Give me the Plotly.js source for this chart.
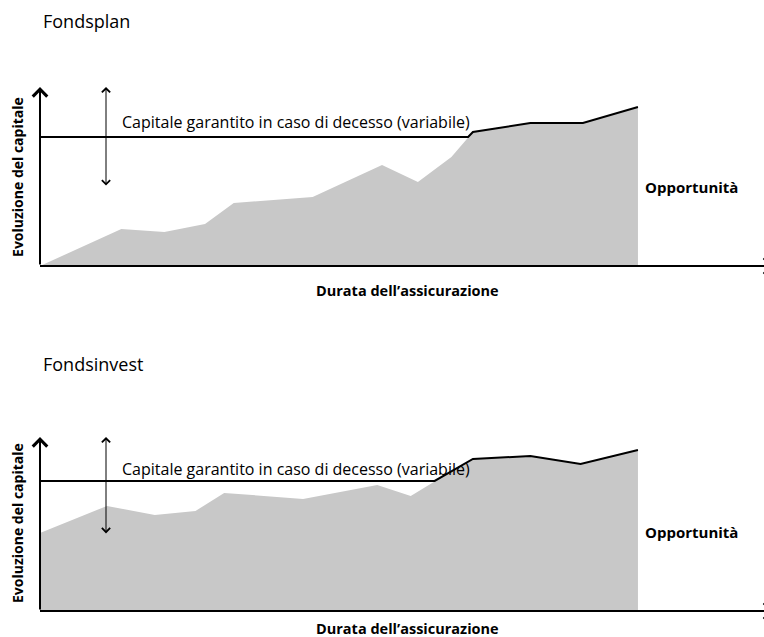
<!DOCTYPE html>
<html><head><meta charset="utf-8">
<script src="https://cdn.plot.ly/plotly-3.0.1.min.js"></script>
<style>html,body{margin:0;padding:0;background:#fff;}#chart{width:764px;height:637px;}</style>
</head><body><div id="chart"></div>
<script>
// Fondsplan (upper panel)
const durataPlan = [0, 3.4, 5.2, 6.9, 8.1, 11.4, 14.3, 15.8, 17.2, 18.1, 20.5, 22.7, 25];
const valorePlan = [0, 28.7, 26.4, 32.6, 48.8, 53.5, 78.3, 65.1, 84.5, 103.9, 110.9, 110.9, 123.3];
const durataGarPlan = [0, 17.9, 18.1, 20.5, 22.7, 25];
const garantitoPlan = [100, 100, 103.9, 110.9, 110.9, 123.3];

// Fondsinvest (lower panel)
const durataInvest = [0, 2.8, 4.8, 6.5, 7.7, 11.0, 14.1, 15.5, 16.6, 18.1, 20.5, 22.6, 25];
const valoreInvest = [60, 80.8, 73.8, 76.9, 90.8, 86.2, 96.9, 88.5, 100.8, 116.9, 119.2, 113.1, 123.8];
const durataGarInvest = [0, 16.5, 18.1, 20.5, 22.6, 25];
const garantitoInvest = [100, 100, 116.9, 119.2, 113.1, 123.8];

// Texts
const panelTitles = ['Fondsplan', 'Fondsinvest'];
const xTitle = 'Durata dell\u2019assicurazione';
const yTitle = 'Evoluzione del capitale';
const labelGarantito = 'Capitale garantito in caso di decesso (variabile)';
const labelOpportunita = 'Opportunit\u00e0';

const FONT = '"Open Sans", "Noto Sans", sans-serif';
const GRAY = '#c8c8c8';

const panels = [
  {xa:'x', ya:'y', dx:durataPlan, dy:valorePlan, gx:durataGarPlan, gy:garantitoPlan,
   yTop:138.8, arrowLow:61.2, labelY:112.0, title:panelTitles[0], axisY:0.58242,
   titleY:0.967, oppY:0.7064, xtY:0.5447, xtAnchor:'middle', ytY:0.7222},
  {xa:'x2', ya:'y2', dx:durataInvest, dy:valoreInvest, gx:durataGarInvest, gy:garantitoInvest,
   yTop:133.8, arrowLow:58.5, labelY:109.5, title:panelTitles[1], axisY:0.04082,
   titleY:0.4286, oppY:0.1648, xtY:-0.004, xtAnchor:'bottom', ytY:0.179}
];
const X_MAX = 30.27;
const X_DOUBLE = 2.76;
const X_LABEL = 3.34;

const traces = [];
const annotations = [];
const shapes = [];
panels.forEach(p => {
  traces.push({type:'scatter', mode:'lines', x:p.dx, y:p.dy, xaxis:p.xa, yaxis:p.ya,
    fill:'tozeroy', fillcolor:GRAY, line:{width:0, color:GRAY}, hoverinfo:'skip', showlegend:false});
  traces.push({type:'scatter', mode:'lines', x:p.gx, y:p.gy, xaxis:p.xa, yaxis:p.ya,
    line:{width:2, color:'#000'}, hoverinfo:'skip', showlegend:false});
  const ref = {xref:p.xa, yref:p.ya, axref:p.xa, ayref:p.ya};
  // y axis arrow
  annotations.push(Object.assign({x:0, y:p.yTop, ax:0, ay:0, text:'', showarrow:true,
    arrowhead:4, arrowsize:1.4, arrowwidth:2, arrowcolor:'#000', standoff:0, startstandoff:0}, ref));
  // x axis line, running to the right edge, with an arrowhead that lies mostly outside the picture
  shapes.push({type:'line', xref:'paper', yref:'paper', x0:0, x1:1.01, y0:p.axisY, y1:p.axisY,
    line:{color:'#000', width:2}, layer:'above'});
  const dy = 8/637;
  shapes.push({type:'path', xref:'paper', yref:'paper', layer:'above',
    path:'M 0.9995 '+(p.axisY+dy)+' L 1.0105 '+p.axisY+' L 0.9995 '+(p.axisY-dy),
    line:{color:'#000', width:2.5}});
  // double arrow
  annotations.push(Object.assign({x:X_DOUBLE, y:p.yTop, ax:X_DOUBLE, ay:p.arrowLow, text:'', showarrow:true,
    arrowside:'end+start', arrowhead:4, startarrowhead:4, arrowsize:1.6, startarrowsize:1.6,
    arrowwidth:1, arrowcolor:'#000', standoff:0, startstandoff:0}, ref));
  // guarantee label
  annotations.push({xref:p.xa, yref:p.ya, x:X_LABEL, y:p.labelY, xanchor:'left', yanchor:'middle',
    text:labelGarantito, showarrow:false, font:{family:FONT, size:16, color:'#000'}});
  // Opportunita
  annotations.push({xref:'paper', yref:'paper', x:0.8328, y:p.oppY, xanchor:'left', yanchor:'middle',
    text:'<b>'+labelOpportunita+'</b>', showarrow:false, font:{family:FONT, size:15, color:'#000'}});
  // x title
  annotations.push({xref:'paper', yref:'paper', x:0.508, y:p.xtY, xanchor:'center', yanchor:p.xtAnchor,
    text:'<b>'+xTitle+'</b>', showarrow:false, font:{family:FONT, size:14.5, color:'#000'}});
  // y title
  annotations.push({xref:'paper', yref:'paper', x:-0.0304, y:p.ytY, xanchor:'center', yanchor:'middle',
    textangle:-90, text:'<b>'+yTitle+'</b>', showarrow:false, font:{family:FONT, size:14, color:'#000'}});
  // panel title
  annotations.push({xref:'paper', yref:'paper', x:0.002, y:p.titleY, xanchor:'left', yanchor:'middle',
    text:p.title, showarrow:false, font:{family:FONT, size:18, color:'#000'}});
});

const axOff = {visible:false, showgrid:false, zeroline:false, fixedrange:true};
const layout = {
  width:764, height:637,
  margin:{l:40, r:0, t:0, b:0, pad:0},
  paper_bgcolor:'#fff', plot_bgcolor:'#fff',
  showlegend:false,
  xaxis:Object.assign({domain:[0,1], range:[0,X_MAX], anchor:'y'}, axOff),
  yaxis:Object.assign({domain:[0.58242,0.86342], range:[0,panels[0].yTop], anchor:'x'}, axOff),
  xaxis2:Object.assign({domain:[0,1], range:[0,X_MAX], anchor:'y2'}, axOff),
  yaxis2:Object.assign({domain:[0.04082,0.31397], range:[0,panels[1].yTop], anchor:'x2'}, axOff),
  annotations:annotations,
  shapes:shapes
};
Plotly.newPlot('chart', traces, layout, {staticPlot:true, displayModeBar:false});
</script>
</body></html>
